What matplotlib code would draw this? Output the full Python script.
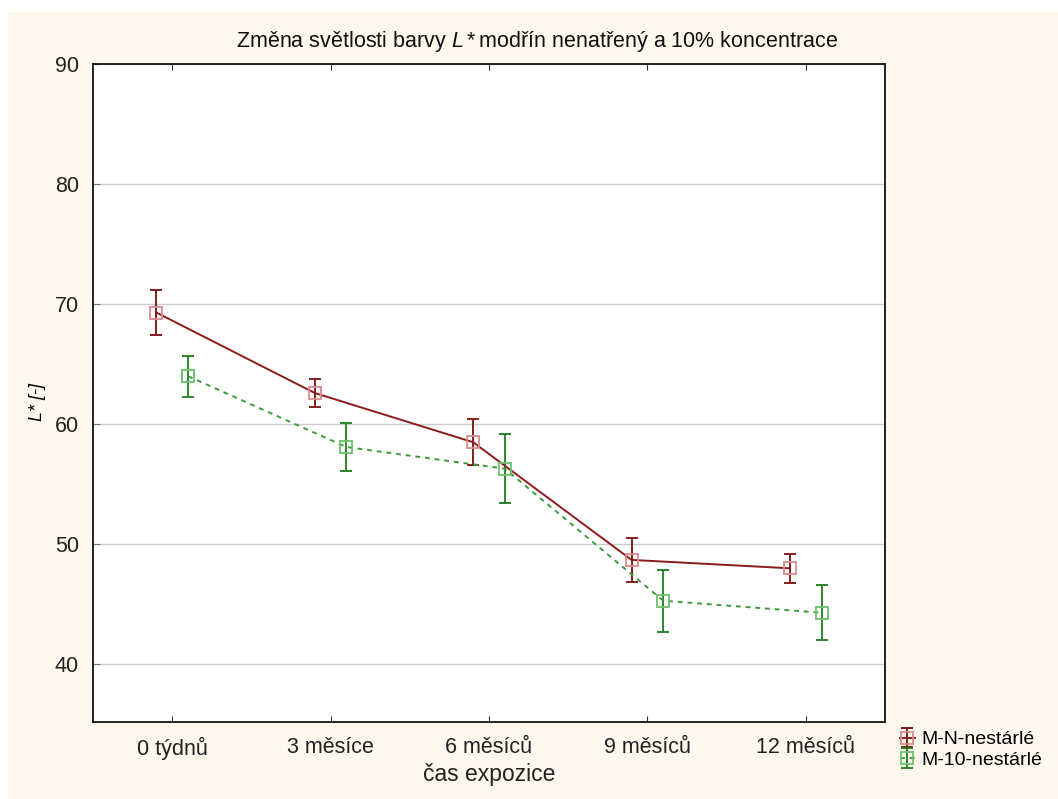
import matplotlib
matplotlib.use("Agg")
import matplotlib.pyplot as plt
from matplotlib.patches import Rectangle
import numpy as np

plt.rcParams['font.family'] = ['Liberation Sans', 'DejaVu Sans']
plt.rcParams['mathtext.fontset'] = 'custom'
plt.rcParams['mathtext.it'] = 'Liberation Sans:italic'
plt.rcParams['mathtext.rm'] = 'Liberation Sans'

# exposure times and mean L* with error bar half-widths
categories = ["0 týdnů", "3 měsíce", "6 měsíců", "9 měsíců", "12 měsíců"]
mn_mean = [69.3, 62.6, 58.5, 48.7, 48.0]
mn_err = [1.9, 1.2, 1.9, 1.8, 1.2]
m10_mean = [64.0, 58.1, 56.3, 45.3, 44.3]
m10_err = [1.7, 2.0, 2.9, 2.6, 2.3]

fig = plt.figure(figsize=(10.58, 7.99), dpi=100, facecolor="white")
fig.patches.append(Rectangle((8 / 1058, 0), 1, 1 - 12 / 799, transform=fig.transFigure,
                             facecolor="#fcf8ee", edgecolor="none", zorder=-10))
ax = fig.add_axes([93 / 1058, 1 - 722 / 799, (885 - 93) / 1058, (722 - 64) / 799])
ax.set_facecolor("white")

x = np.arange(len(categories))
shift = 0.1

ax.errorbar(x - shift, mn_mean, yerr=mn_err, color="#8c1c1c", lw=1.4, ls="-",
            marker="s", ms=8.5, mfc="none", mec="#d98a8e", mew=1.3,
            ecolor="#7a0c0c", elinewidth=1.3, capsize=4, capthick=1.3,
            label="M-N-nestárlé", zorder=3)
ax.errorbar(x + shift, m10_mean, yerr=m10_err, color="#3d9a3d", lw=1.4, ls=(0, (2.5, 2.5)),
            marker="s", ms=8.5, mfc="none", mec="#6cc06c", mew=1.3,
            ecolor="#1a7f1a", elinewidth=1.3, capsize=4, capthick=1.3,
            label="M-10-nestárlé", zorder=3)

ax.set_xlim(-0.5, 4.5)
ax.set_ylim(35.2, 90)
ax.set_xticks(x)
ax.set_xticklabels(categories, fontsize=15.5, color="#222222")
ax.set_yticks([40, 50, 60, 70, 80, 90])
ax.tick_params(axis="y", direction="in", length=5, color="#777777", labelsize=15.5,
               labelcolor="#222222", pad=10)
ax.tick_params(axis="x", direction="in", length=4, top=True, color="#333333", pad=11)
for s in ax.spines.values():
    s.set_linewidth(1.3)
    s.set_color("#111111")
ax.yaxis.grid(True, color="#cccccc", lw=1)
ax.set_axisbelow(True)

fig.text(537 / 1058, 1 - 42 / 799,
         r"Změna světlosti barvy $L*$modřín nenatřený a 10% koncentrace",
         fontsize=15.5, ha="center", va="center", color="#111111")
ax.set_xlabel("čas expozice", fontsize=16.5, labelpad=2, color="#222222")
ax.set_ylabel("L* [-]", fontsize=13, style="italic")
ax.yaxis.set_label_coords(-0.059, 0.487)

ax.legend(loc="lower left", bbox_to_anchor=(0.843, 0.028), bbox_transform=fig.transFigure,
          frameon=False, fontsize=14, handlelength=0.8, handletextpad=0.3,
          labelspacing=0.15, borderaxespad=0)

fig.savefig("out.png", dpi=100, facecolor=fig.get_facecolor())
